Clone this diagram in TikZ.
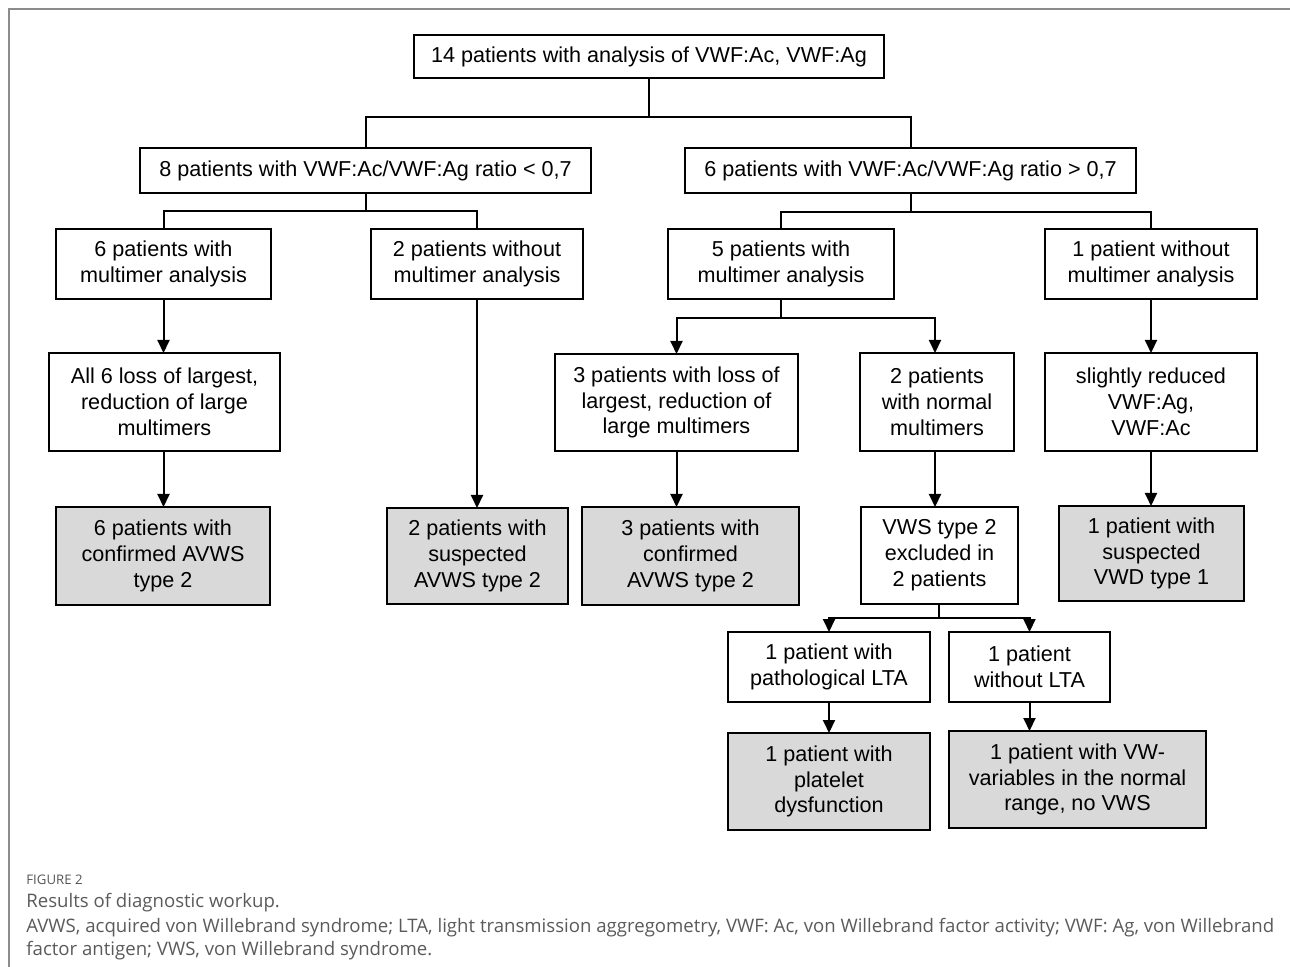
\documentclass[tikz,border=0pt]{standalone}
\usepackage{fontspec}
\setmainfont{Liberation Sans}
\newfontfamily\capfont{Open Sans}
\usetikzlibrary{arrows.meta}
\definecolor{boxgray}{HTML}{D9D9D9}
\definecolor{capgray}{HTML}{5A5A5A}
\definecolor{figgray}{HTML}{555555}
\definecolor{framegray}{HTML}{8C8C8C}
\newcommand{\fbx}[7]{%
 \pgfmathsetmacro\bxw{(#5-#3)/2}%
 \pgfmathsetmacro\bxh{(#6-#4)/2}%
 \node[#1, minimum width=\bxw pt, minimum height=\bxh pt] (#2) at ({(#3+#5)/2},{(#4+#6)/2}) {#7};}
\tikzset{
 box/.style={draw=black, line width=1pt, fill=white, align=center, inner sep=0pt, outer sep=0pt, font=\fontsize{10.8}{12.9}\selectfont},
 gbox/.style={box, fill=boxgray},
 ln/.style={draw=black, line width=1pt},
 arr/.style={ln, -{Triangle[length=6.5pt,width=6pt]}},
 captext/.style={anchor=base west, inner sep=0pt, text=capgray, font=\capfont\fontsize{9.3}{11}\selectfont}
}
\begin{document}
\begin{tikzpicture}[x=0.5pt,y=-0.5pt]
\useasboundingbox (0,0) rectangle (1290,967);
\draw[framegray, line width=0.6pt] (9,967) -- (9,9) -- (1290,9);
% boxes
\fbx{box}{root}{414}{35}{884}{78}{14 patients with analysis of VWF:Ac, VWF:Ag}
\fbx{box}{lowr}{140}{148}{591}{193}{8 patients with VWF:Ac/VWF:Ag ratio < 0,7}
\fbx{box}{highr}{685}{148}{1136}{193}{6 patients with VWF:Ac/VWF:Ag ratio > 0,7}
\fbx{box}{pat6}{56}{229}{271}{299}{6 patients with\\multimer analysis}
\fbx{box}{pat2}{371}{229}{583}{299}{2 patients without\\multimer analysis}
\fbx{box}{pat5}{668}{229}{894}{299}{5 patients with\\multimer analysis}
\fbx{box}{pat1}{1045}{229}{1257}{299}{1 patient without\\multimer analysis}
\fbx{box}{all6}{49}{353}{280}{451}{All 6 loss of largest,\\reduction of large\\multimers}
\fbx{box}{loss3}{555}{354}{798}{451}{3 patients with loss of\\largest, reduction of\\large multimers}
\fbx{box}{norm2}{860}{353}{1014}{451}{2 patients\\with normal\\multimers}
\fbx{box}{slight}{1045}{353}{1257}{451}{slightly reduced\\VWF:Ag,\\VWF:Ac}
\fbx{gbox}{conf6}{56}{507}{270}{605}{6 patients with\\confirmed AVWS\\type 2}
\fbx{gbox}{susp2}{387}{508}{568}{604}{2 patients with\\suspected\\AVWS type 2}
\fbx{gbox}{conf3}{582}{507}{799}{605}{3 patients with\\confirmed\\AVWS type 2}
\fbx{box}{vws}{861}{507}{1018}{604}{VWS type 2\\excluded in\\2 patients}
\fbx{gbox}{vwd}{1059}{506}{1244}{601}{1 patient with\\suspected\\VWD type 1}
\fbx{box}{path}{728}{632}{930}{702}{1 patient with\\pathological LTA}
\fbx{box}{nolta}{949}{632}{1110}{702}{1 patient\\without LTA}
\fbx{gbox}{plate}{728}{733}{930}{830}{1 patient with\\platelet\\dysfunction}
\fbx{gbox}{vwn}{949}{731}{1206}{828}{1 patient with VW-\\variables in the normal\\range, no VWS}
% junctions
\coordinate (j1) at (649,117);
\coordinate (j2) at (366,211);
\coordinate (j3) at (911,212);
\coordinate (j4) at (781,318);
\coordinate (j5) at (939,618);
% connectors
\draw[ln] (root.south) -- (j1);
\draw[ln] (lowr.north) |- (j1) -| (highr.north);
\draw[ln] (lowr.south -| j2) -- (j2);
\draw[ln] (pat6.north) |- (j2) -| (pat2.north);
\draw[ln] (highr.south -| j3) -- (j3);
\draw[ln] (pat5.north) |- (j3) -| (pat1.north);
\draw[arr] (pat6.south) -- (all6.north -| pat6.south);
\draw[arr] (all6.south -| pat6.south) -- (conf6.north -| pat6.south);
\draw[arr] (pat2.south) -- (susp2.north -| pat2.south);
\draw[ln] (pat5.south) -- (j4);
\draw[arr] (j4) -| (loss3.north);
\draw[arr] (j4) -| ([xshift=-1pt]norm2.north);
\draw[arr] (loss3.south) -- (conf3.north -| loss3.south);
\draw[arr] ([xshift=-1pt]norm2.south) -- ([xshift=-1pt]norm2.south |- vws.north);
\draw[arr] (pat1.south) -- (slight.north);
\draw[arr] (slight.south) -- (slight.south |- vwd.north);
\draw[ln] (vws.south -| j5) -- (j5);
\draw[arr] (j5) -| (path.north);
\draw[arr] (j5) -| (nolta.north);
\draw[arr] (path.south) -- (plate.north -| path.south);
\draw[arr] (nolta.south) -- (vwn.north -| nolta.south);
% caption
\node[captext, text=figgray, font=\capfont\fontsize{6.6}{8}\selectfont] (cap1) at (26,884) {FIGURE 2};
\node[captext] (cap2) at (26,907) {Results of diagnostic workup.};
\node[captext] (cap3) at (26,932) {AVWS, acquired von Willebrand syndrome; LTA, light transmission aggregometry, VWF: Ac, von Willebrand factor activity; VWF: Ag, von Willebrand};
\node[captext] (cap4) at (26,955) {factor antigen; VWS, von Willebrand syndrome.};
\end{tikzpicture}
\end{document}
